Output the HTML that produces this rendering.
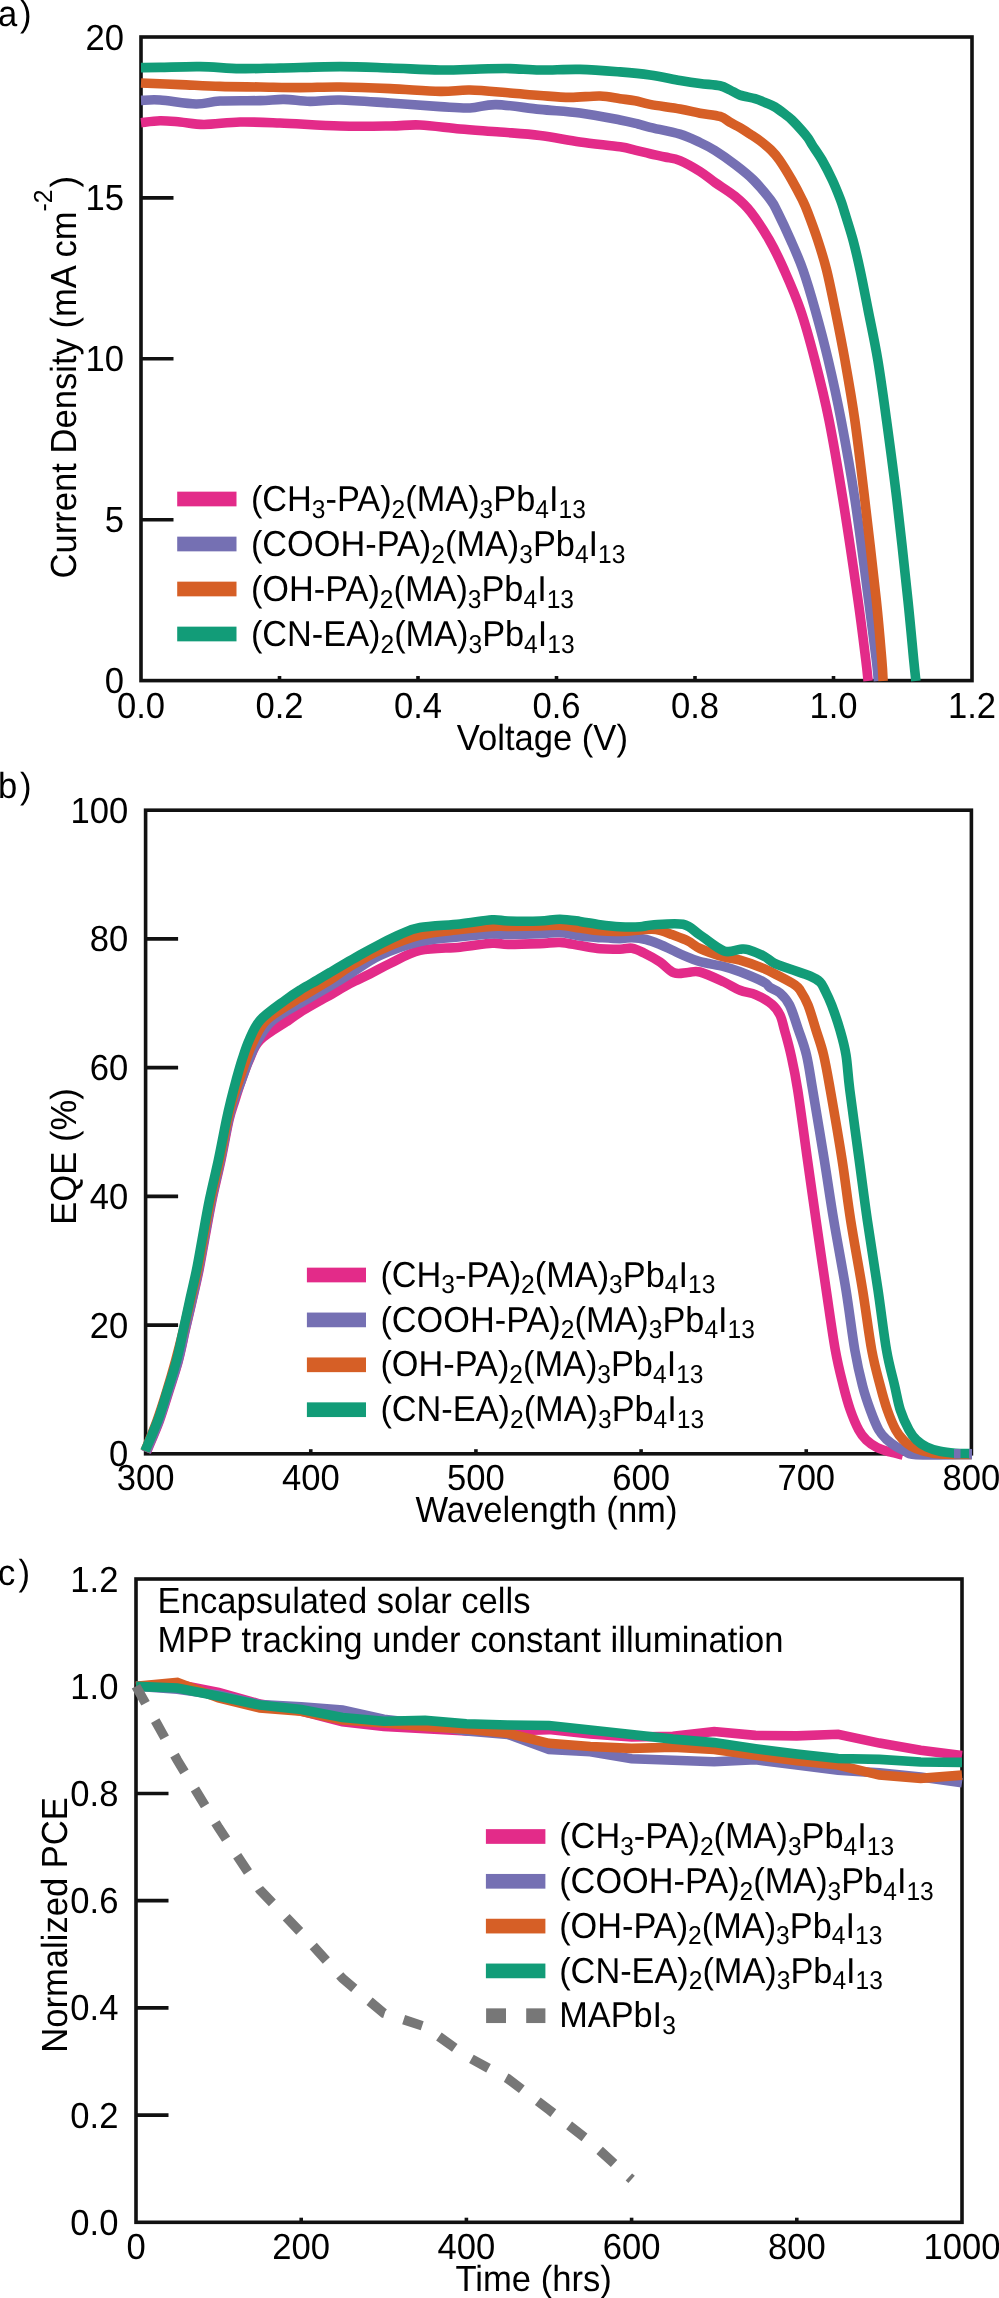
<!DOCTYPE html><html><head><meta charset="utf-8"><title>Figure</title><style>html,body{margin:0;padding:0;background:#fff;overflow:hidden}svg{display:block;will-change:transform}svg{font-size:34.6px}text{font-family:"Liberation Sans",sans-serif;fill:#000;text-rendering:geometricPrecision}</style></head><body>
<svg width="999" height="2298" viewBox="0 0 999 2298">
<rect width="999" height="2298" fill="#fff"/>
<line x1="141" y1="519.7" x2="173.5" y2="519.7" stroke="#111" stroke-width="3.6"/>
<line x1="141" y1="358.8" x2="173.5" y2="358.8" stroke="#111" stroke-width="3.6"/>
<line x1="141" y1="197.9" x2="173.5" y2="197.9" stroke="#111" stroke-width="3.6"/>
<line x1="279.5" y1="680.6" x2="279.5" y2="676" stroke="#111" stroke-width="3.6"/>
<line x1="418" y1="680.6" x2="418" y2="676" stroke="#111" stroke-width="3.6"/>
<line x1="556.5" y1="680.6" x2="556.5" y2="676" stroke="#111" stroke-width="3.6"/>
<line x1="695" y1="680.6" x2="695" y2="676" stroke="#111" stroke-width="3.6"/>
<line x1="833.5" y1="680.6" x2="833.5" y2="676" stroke="#111" stroke-width="3.6"/>
<rect x="141" y="37" width="831" height="643.6" fill="none" stroke="#111" stroke-width="3.6"/>
<path d="M141,122.7 C144.17,122.37 153.5,120.82 160,120.7 C166.5,120.58 172.67,121.37 180,122 C187.33,122.63 194,124.5 204,124.5 C214,124.5 227.33,122.25 240,122 C252.67,121.75 263.33,122.33 280,123 C296.67,123.67 321.67,125.5 340,126 C358.33,126.5 376.67,126.17 390,126 C403.33,125.83 408.33,124.5 420,125 C431.67,125.5 446.67,127.83 460,129 C473.33,130.17 486.67,130.93 500,132 C513.33,133.07 526.67,133.73 540,135.4 C553.33,137.07 566.67,140.1 580,142 C593.33,143.9 610.83,145.45 620,146.8 C629.17,148.15 630,148.95 635,150.1 C640,151.25 645,152.55 650,153.7 C655,154.85 660,155.85 665,157 C670,158.15 674.17,158.18 680,160.6 C685.83,163.02 694.17,167.85 700,171.5 C705.83,175.15 709.17,178.37 715,182.5 C720.83,186.63 729.03,191.38 735,196.3 C740.97,201.22 745.08,204.72 750.8,212 C756.52,219.28 763.73,230.33 769.3,240 C774.87,249.67 779,258.33 784.2,270 C789.4,281.67 795.38,295 800.5,310 C805.62,325 810.15,341.67 814.9,360 C819.65,378.33 824.32,396.67 829,420 C833.68,443.33 838.17,470 843,500 C847.83,530 854.2,573.33 858,600 C861.8,626.67 864.12,646.5 865.8,660 C867.48,673.5 867.72,677.5 868.1,681" fill="none" stroke="#e32b89" stroke-width="9.6" stroke-linejoin="round" stroke-linecap="butt"/>
<path d="M141,100.4 C144.17,100.33 150.83,99.4 160,100 C169.17,100.6 186,103.83 196,104 C206,104.17 209.33,101.57 220,101 C230.67,100.43 249.33,100.87 260,100.6 C270.67,100.33 275.67,99.27 284,99.4 C292.33,99.53 300.67,101.3 310,101.4 C319.33,101.5 326.67,99.73 340,100 C353.33,100.27 373.33,101.9 390,103 C406.67,104.1 426.67,105.77 440,106.6 C453.33,107.43 460.67,108.33 470,108 C479.33,107.67 484.33,104.37 496,104.6 C507.67,104.83 526,108 540,109.4 C554,110.8 566.67,111.23 580,113 C593.33,114.77 610.33,118.17 620,120 C629.67,121.83 633,122.78 638,124 C643,125.22 643,125.6 650,127.3 C657,129 671.67,131.67 680,134.2 C688.33,136.73 694.17,139.78 700,142.5 C705.83,145.22 709.17,146.83 715,150.5 C720.83,154.17 728.58,159.58 735,164.5 C741.42,169.42 747.57,174.08 753.5,180 C759.43,185.92 766.6,194.67 770.6,200 C774.6,205.33 774.17,205.33 777.5,212 C780.83,218.67 786.35,230.33 790.6,240 C794.85,249.67 798.9,258.33 803,270 C807.1,281.67 811,295 815.2,310 C819.4,325 823.88,341.67 828.2,360 C832.52,378.33 836.63,396.67 841.1,420 C845.57,443.33 850.42,470 855,500 C859.58,530 865.05,573.33 868.6,600 C872.15,626.67 874.67,646.5 876.3,660 C877.93,673.5 878.05,677.5 878.4,681" fill="none" stroke="#7570b3" stroke-width="9.6" stroke-linejoin="round" stroke-linecap="butt"/>
<path d="M141,83 C147.5,83.27 166.83,84.03 180,84.6 C193.17,85.17 206.67,86 220,86.4 C233.33,86.8 246.67,86.8 260,87 C273.33,87.2 286.67,87.6 300,87.6 C313.33,87.6 325,86.83 340,87 C355,87.17 373.33,87.87 390,88.6 C406.67,89.33 426.67,91.17 440,91.4 C453.33,91.63 458.33,89.73 470,90 C481.67,90.27 498.33,92.08 510,93 C521.67,93.92 530,94.77 540,95.5 C550,96.23 560,97.32 570,97.4 C580,97.48 591.67,95.78 600,96 C608.33,96.22 614.17,97.9 620,98.7 C625.83,99.5 630,99.85 635,100.8 C640,101.75 642.5,103.03 650,104.4 C657.5,105.77 671.67,107.53 680,109 C688.33,110.47 693.33,111.97 700,113.2 C706.67,114.43 715,114.88 720,116.4 C725,117.92 726.67,120.43 730,122.3 C733.33,124.17 736.67,125.65 740,127.6 C743.33,129.55 746.67,131.8 750,134 C753.33,136.2 756.5,138.13 760,140.8 C763.5,143.47 767.77,146.8 771,150 C774.23,153.2 775.93,155 779.4,160 C782.87,165 787.97,173.33 791.8,180 C795.63,186.67 799.77,194.67 802.4,200 C805.03,205.33 805.05,205.33 807.6,212 C810.15,218.67 814.53,230.33 817.7,240 C820.87,249.67 823.68,258.33 826.6,270 C829.52,281.67 832.15,295 835.2,310 C838.25,325 841.63,341.67 844.9,360 C848.17,378.33 851.48,396.67 854.8,420 C858.12,443.33 861.22,470 864.8,500 C868.38,530 873.47,573.33 876.3,600 C879.13,626.67 880.67,646.5 881.8,660 C882.93,673.5 882.88,677.5 883.1,681" fill="none" stroke="#d65f26" stroke-width="9.6" stroke-linejoin="round" stroke-linecap="butt"/>
<path d="M141,67.6 C144.17,67.57 150.17,67.57 160,67.4 C169.83,67.23 186.67,66.4 200,66.6 C213.33,66.8 226.67,68.37 240,68.6 C253.33,68.83 263.33,68.33 280,68 C296.67,67.67 321.67,66.6 340,66.6 C358.33,66.6 373.33,67.43 390,68 C406.67,68.57 425,69.83 440,70 C455,70.17 468.33,69.23 480,69 C491.67,68.77 500,68.43 510,68.6 C520,68.77 528.33,69.87 540,70 C551.67,70.13 566.67,69.08 580,69.4 C593.33,69.72 608.33,70.97 620,71.9 C631.67,72.83 640,73.58 650,75 C660,76.42 671.67,78.98 680,80.4 C688.33,81.82 693.33,82.6 700,83.5 C706.67,84.4 715,84.72 720,85.8 C725,86.88 726.67,88.45 730,90 C733.33,91.55 735.83,93.67 740,95.1 C744.17,96.53 750.83,97.37 755,98.6 C759.17,99.83 761.67,101.1 765,102.5 C768.33,103.9 771.5,104.92 775,107 C778.5,109.08 783.17,112.83 786,115 C788.83,117.17 789.43,117.5 792,120 C794.57,122.5 798.73,127 801.4,130 C804.07,133 806.2,135.5 808,138 C809.8,140.5 809.87,141.33 812.2,145 C814.53,148.67 818.65,154.17 822,160 C825.35,165.83 829.2,173.33 832.3,180 C835.4,186.67 838.57,194.67 840.6,200 C842.63,205.33 842.43,205.33 844.5,212 C846.57,218.67 850.4,230.33 853,240 C855.6,249.67 857.58,258.33 860.1,270 C862.62,281.67 865.15,295 868.1,310 C871.05,325 874.73,341.67 877.8,360 C880.87,378.33 883.32,396.67 886.5,420 C889.68,443.33 893.33,470 896.9,500 C900.47,530 905.1,573.33 907.9,600 C910.7,626.67 912.37,646.5 913.7,660 C915.03,673.5 915.53,677.5 915.9,681" fill="none" stroke="#129c78" stroke-width="9.6" stroke-linejoin="round" stroke-linecap="butt"/>
<text transform="translate(123.9,693.1) scale(1,1.05)" text-anchor="end">0</text>
<text transform="translate(123.9,532.2) scale(1,1.05)" text-anchor="end">5</text>
<text transform="translate(123.9,371.3) scale(1,1.05)" text-anchor="end">10</text>
<text transform="translate(123.9,210.4) scale(1,1.05)" text-anchor="end">15</text>
<text transform="translate(123.9,49.5) scale(1,1.05)" text-anchor="end">20</text>
<text transform="translate(141,717.7) scale(1,1.05)" text-anchor="middle">0.0</text>
<text transform="translate(279.5,717.7) scale(1,1.05)" text-anchor="middle">0.2</text>
<text transform="translate(418,717.7) scale(1,1.05)" text-anchor="middle">0.4</text>
<text transform="translate(556.5,717.7) scale(1,1.05)" text-anchor="middle">0.6</text>
<text transform="translate(695,717.7) scale(1,1.05)" text-anchor="middle">0.8</text>
<text transform="translate(833.5,717.7) scale(1,1.05)" text-anchor="middle">1.0</text>
<text transform="translate(972,717.7) scale(1,1.05)" text-anchor="middle">1.2</text>
<text transform="translate(456.85,749.7) scale(1,1.05)">Voltage (V)</text>
<text transform="translate(75.9,578.4) rotate(-90) scale(1,1.05)">Current Density (mA cm<tspan font-size="24.8" dy="-22.4">-2</tspan><tspan dy="22.4" dx="1.8">)</tspan></text>
<text transform="translate(-2.1,25.6) scale(1,1.05)">a</text>
<text transform="translate(20,25.6) scale(1,1.05)">)</text>
<rect x="177.2" y="491.65" width="59.3" height="14.7" fill="#e32b89"/>
<text transform="translate(250.9,511) scale(1,1.05)" font-size="34.3"><tspan>(CH</tspan><tspan font-size="24.6" dy="6.35">3</tspan><tspan dy="-6.35">-PA)</tspan><tspan font-size="24.6" dy="6.35">2</tspan><tspan dy="-6.35">(MA)</tspan><tspan font-size="24.6" dy="6.35">3</tspan><tspan dy="-6.35">Pb</tspan><tspan font-size="24.6" dy="6.35">4</tspan><tspan dy="-6.35">I</tspan><tspan font-size="24.6" dy="6.35">13</tspan></text>
<rect x="177.2" y="536.65" width="59.3" height="14.7" fill="#7570b3"/>
<text transform="translate(250.9,556) scale(1,1.05)" font-size="34.3"><tspan>(COOH-PA)</tspan><tspan font-size="24.6" dy="6.35">2</tspan><tspan dy="-6.35">(MA)</tspan><tspan font-size="24.6" dy="6.35">3</tspan><tspan dy="-6.35">Pb</tspan><tspan font-size="24.6" dy="6.35">4</tspan><tspan dy="-6.35">I</tspan><tspan font-size="24.6" dy="6.35">13</tspan></text>
<rect x="177.2" y="581.65" width="59.3" height="14.7" fill="#d65f26"/>
<text transform="translate(250.9,601) scale(1,1.05)" font-size="34.3"><tspan>(OH-PA)</tspan><tspan font-size="24.6" dy="6.35">2</tspan><tspan dy="-6.35">(MA)</tspan><tspan font-size="24.6" dy="6.35">3</tspan><tspan dy="-6.35">Pb</tspan><tspan font-size="24.6" dy="6.35">4</tspan><tspan dy="-6.35">I</tspan><tspan font-size="24.6" dy="6.35">13</tspan></text>
<rect x="177.2" y="626.65" width="59.3" height="14.7" fill="#129c78"/>
<text transform="translate(250.9,646) scale(1,1.05)" font-size="34.3"><tspan>(CN-EA)</tspan><tspan font-size="24.6" dy="6.35">2</tspan><tspan dy="-6.35">(MA)</tspan><tspan font-size="24.6" dy="6.35">3</tspan><tspan dy="-6.35">Pb</tspan><tspan font-size="24.6" dy="6.35">4</tspan><tspan dy="-6.35">I</tspan><tspan font-size="24.6" dy="6.35">13</tspan></text>
<line x1="145.6" y1="1325.08" x2="178.1" y2="1325.08" stroke="#111" stroke-width="3.6"/>
<line x1="145.6" y1="1196.36" x2="178.1" y2="1196.36" stroke="#111" stroke-width="3.6"/>
<line x1="145.6" y1="1067.64" x2="178.1" y2="1067.64" stroke="#111" stroke-width="3.6"/>
<line x1="145.6" y1="938.92" x2="178.1" y2="938.92" stroke="#111" stroke-width="3.6"/>
<line x1="310.76" y1="1453.8" x2="310.76" y2="1449.2" stroke="#111" stroke-width="3.6"/>
<line x1="475.92" y1="1453.8" x2="475.92" y2="1449.2" stroke="#111" stroke-width="3.6"/>
<line x1="641.08" y1="1453.8" x2="641.08" y2="1449.2" stroke="#111" stroke-width="3.6"/>
<line x1="806.24" y1="1453.8" x2="806.24" y2="1449.2" stroke="#111" stroke-width="3.6"/>
<rect x="145.6" y="810.2" width="825.8" height="643.6" fill="none" stroke="#111" stroke-width="3.6"/>
<path d="M146.5,1452 C148.63,1446.83 155.55,1431.17 159.3,1421 C163.05,1410.83 165.83,1401 169,1391 C172.17,1381 175.58,1371.17 178.3,1361 C181.02,1350.83 182.97,1340.17 185.3,1330 C187.63,1319.83 190.02,1310 192.3,1300 C194.58,1290 196.97,1280 199,1270 C201.03,1260 202.33,1251.67 204.5,1240 C206.67,1228.33 209.25,1213.33 212,1200 C214.75,1186.67 218.17,1173.33 221,1160 C223.83,1146.67 226.67,1130 229,1120 C231.33,1110 232.9,1106.67 235,1100 C237.1,1093.33 239.23,1086.67 241.6,1080 C243.97,1073.33 246.13,1066.67 249.2,1060 C252.27,1053.33 253.37,1046.67 260,1040 C266.63,1033.33 282,1024.83 289,1020 C296,1015.17 296.67,1014.33 302,1011 C307.33,1007.67 316,1002.83 321,1000 C326,997.17 327.17,996.75 332,994 C336.83,991.25 343.67,986.85 350,983.5 C356.33,980.15 363.33,977.23 370,973.9 C376.67,970.57 381.67,967.42 390,963.5 C398.33,959.58 408.33,953.12 420,950.4 C431.67,947.68 448,948.4 460,947.2 C472,946 484,943.67 492,943.2 C500,942.73 500,944.33 508,944.4 C516,944.47 531.33,943.93 540,943.6 C548.67,943.27 553.33,942.07 560,942.4 C566.67,942.73 573.33,944.53 580,945.6 C586.67,946.67 593.33,948.2 600,948.8 C606.67,949.4 614.67,949.3 620,949.2 C625.33,949.1 628,947.57 632,948.2 C636,948.83 639.33,950.7 644,953 C648.67,955.3 655,958.7 660,962 C665,965.3 669.33,971.05 674,972.8 C678.67,974.55 683.67,972.63 688,972.5 C692.33,972.37 694,970.42 700,972 C706,973.58 717.33,978.95 724,982 C730.67,985.05 734.67,988.17 740,990.3 C745.33,992.43 750.67,992.47 756,994.8 C761.33,997.13 768,1000.93 772,1004.3 C776,1007.67 777.92,1010.72 780,1015 C782.08,1019.28 782.67,1023.33 784.5,1030 C786.33,1036.67 788.8,1045 791,1055 C793.2,1065 794.95,1072.5 797.7,1090 C800.45,1107.5 804.45,1138.33 807.5,1160 C810.55,1181.67 812.88,1198.33 816,1220 C819.12,1241.67 822.98,1268.33 826.2,1290 C829.42,1311.67 832.43,1334 835.3,1350 C838.17,1366 840.9,1376 843.4,1386 C845.9,1396 847.73,1402.67 850.3,1410 C852.87,1417.33 856.13,1425 858.8,1430 C861.47,1435 863.27,1437.08 866.3,1440 C869.33,1442.92 873.05,1445.5 877,1447.5 C880.95,1449.5 885.68,1450.75 890,1452 C894.32,1453.25 900.75,1454.5 902.9,1455" fill="none" stroke="#e32b89" stroke-width="9.6" stroke-linejoin="round" stroke-linecap="butt"/>
<path d="M146,1452 C148.13,1446.83 155.05,1431.17 158.8,1421 C162.55,1410.83 165.3,1401 168.5,1391 C171.7,1381 175.25,1371.17 178,1361 C180.75,1350.83 182.67,1340.17 185,1330 C187.33,1319.83 189.75,1310 192,1300 C194.25,1290 196.5,1280 198.5,1270 C200.5,1260 201.83,1251.67 204,1240 C206.17,1228.33 208.75,1213.33 211.5,1200 C214.25,1186.67 217.67,1173.33 220.5,1160 C223.33,1146.67 226.25,1130 228.5,1120 C230.75,1110 231.83,1106.67 234,1100 C236.17,1093.33 239.03,1086.67 241.5,1080 C243.97,1073.33 246.05,1066.67 248.8,1060 C251.55,1053.33 253.97,1046.67 258,1040 C262.03,1033.33 265,1026.67 273,1020 C281,1013.33 295.83,1006.08 306,1000 C316.17,993.92 326.67,987.83 334,983.5 C341.33,979.17 342.33,978.67 350,974 C357.67,969.33 368.33,960.9 380,955.5 C391.67,950.1 406.67,944.72 420,941.6 C433.33,938.48 448,938.07 460,936.8 C472,935.53 484,934.4 492,934 C500,933.6 500,934.43 508,934.4 C516,934.37 531.33,934.13 540,933.8 C548.67,933.47 553.33,932.03 560,932.4 C566.67,932.77 573.33,935.13 580,936 C586.67,936.87 593.33,937.17 600,937.6 C606.67,938.03 614.67,938.6 620,938.6 C625.33,938.6 627.67,937.45 632,937.6 C636.33,937.75 641.33,938.35 646,939.5 C650.67,940.65 655.67,942.75 660,944.5 C664.33,946.25 668,948.15 672,950 C676,951.85 679.33,953.65 684,955.6 C688.67,957.55 693.33,959.87 700,961.7 C706.67,963.53 717.33,964.92 724,966.6 C730.67,968.28 733.33,969.2 740,971.8 C746.67,974.4 759,979.58 764,982.2 C769,984.82 767.33,985.7 770,987.5 C772.67,989.3 776.75,990.08 780,993 C783.25,995.92 786.42,998.83 789.5,1005 C792.58,1011.17 795.67,1021.67 798.5,1030 C801.33,1038.33 804.13,1045 806.5,1055 C808.87,1065 809.73,1072.5 812.7,1090 C815.67,1107.5 820.8,1138.33 824.3,1160 C827.8,1181.67 830.08,1198.33 833.7,1220 C837.32,1241.67 842.48,1268.33 846,1290 C849.52,1311.67 852.03,1334 854.8,1350 C857.57,1366 860.02,1376 862.6,1386 C865.18,1396 867.6,1402.67 870.3,1410 C873,1417.33 875.97,1425 878.8,1430 C881.63,1435 884.43,1437.25 887.3,1440 C890.17,1442.75 893.05,1444.67 896,1446.5 C898.95,1448.33 901.65,1449.65 905,1451 C908.35,1452.35 904.93,1454 916.1,1454.6 C927.27,1455.2 962.68,1454.6 972,1454.6" fill="none" stroke="#7570b3" stroke-width="9.6" stroke-linejoin="round" stroke-linecap="butt"/>
<path d="M145,1451 C147,1446 153.37,1431 157,1421 C160.63,1411 163.72,1401 166.8,1391 C169.88,1381 172.72,1371.17 175.5,1361 C178.28,1350.83 181,1340.17 183.5,1330 C186,1319.83 188.17,1310 190.5,1300 C192.83,1290 195.42,1280 197.5,1270 C199.58,1260 200.83,1251.67 203,1240 C205.17,1228.33 207.75,1213.33 210.5,1200 C213.25,1186.67 216.67,1173.33 219.5,1160 C222.33,1146.67 225.33,1130 227.5,1120 C229.67,1110 230.55,1106.67 232.5,1100 C234.45,1093.33 236.95,1086.67 239.2,1080 C241.45,1073.33 243.53,1066.67 246,1060 C248.47,1053.33 250.57,1046.67 254,1040 C257.43,1033.33 259.6,1026.67 266.6,1020 C273.6,1013.33 290.1,1003.92 296,1000 C301.9,996.08 296.33,999.83 302,996.5 C307.67,993.17 322,985 330,980 C338,975 341.67,971.5 350,966.5 C358.33,961.5 368.33,955.22 380,950 C391.67,944.78 406.67,938.6 420,935.2 C433.33,931.8 448,931.07 460,929.6 C472,928.13 484,926.93 492,926.4 C500,925.87 500,926.47 508,926.4 C516,926.33 531.33,926.2 540,926 C548.67,925.8 553.33,924.87 560,925.2 C566.67,925.53 573.33,927.07 580,928 C586.67,928.93 593.33,930.23 600,930.8 C606.67,931.37 613.33,931.53 620,931.4 C626.67,931.27 634.67,930.37 640,930 C645.33,929.63 648.67,929.13 652,929.2 C655.33,929.27 656.67,929.5 660,930.4 C663.33,931.3 667.33,932.83 672,934.6 C676.67,936.37 683.33,938.68 688,941 C692.67,943.32 694,945.83 700,948.5 C706,951.17 717.33,955.05 724,957 C730.67,958.95 733.33,958.27 740,960.2 C746.67,962.13 757.33,965.87 764,968.6 C770.67,971.33 774.83,973.87 780,976.6 C785.17,979.33 791.67,982.77 795,985 C798.33,987.23 797.83,986.67 800,990 C802.17,993.33 805.33,998.33 808,1005 C810.67,1011.67 813.4,1021.67 816,1030 C818.6,1038.33 821.22,1045 823.6,1055 C825.98,1065 827.22,1072.5 830.3,1090 C833.38,1107.5 838.72,1138.33 842.1,1160 C845.48,1181.67 847.18,1198.33 850.6,1220 C854.02,1241.67 859.08,1268.33 862.6,1290 C866.12,1311.67 868.75,1334 871.7,1350 C874.65,1366 877.7,1376 880.3,1386 C882.9,1396 884.72,1402.67 887.3,1410 C889.88,1417.33 893.13,1425 895.8,1430 C898.47,1435 900.77,1437.33 903.3,1440 C905.83,1442.67 907.87,1444.23 911,1446 C914.13,1447.77 917.27,1449.27 922.1,1450.6 C926.93,1451.93 931.85,1453.37 940,1454 C948.15,1454.63 965.83,1454.33 971,1454.4" fill="none" stroke="#d65f26" stroke-width="9.6" stroke-linejoin="round" stroke-linecap="butt"/>
<path d="M145,1451 C147.17,1445.83 154.23,1430.17 158,1420 C161.77,1409.83 164.48,1400 167.6,1390 C170.72,1380 174.08,1370 176.7,1360 C179.32,1350 181.12,1340 183.3,1330 C185.48,1320 187.6,1310 189.8,1300 C192,1290 194.47,1280 196.5,1270 C198.53,1260 199.85,1251.67 202,1240 C204.15,1228.33 206.67,1213.33 209.4,1200 C212.13,1186.67 215.57,1173.33 218.4,1160 C221.23,1146.67 224.3,1130 226.4,1120 C228.5,1110 229.37,1106.67 231,1100 C232.63,1093.33 234.37,1086.67 236.2,1080 C238.03,1073.33 239.83,1066.67 242,1060 C244.17,1053.33 246.13,1046.67 249.2,1040 C252.27,1033.33 254.35,1026.67 260.4,1020 C266.45,1013.33 278.73,1005.08 285.5,1000 C292.27,994.92 295.67,992.83 301,989.5 C306.33,986.17 312.67,982.83 317.5,980 C322.33,977.17 322.92,976.67 330,972.5 C337.08,968.33 351.67,959.72 360,955 C368.33,950.28 373.33,947.62 380,944.2 C386.67,940.78 393.33,937.27 400,934.5 C406.67,931.73 410,929.35 420,927.6 C430,925.85 448,925.3 460,924 C472,922.7 484,920.3 492,919.8 C500,919.3 500,920.8 508,921 C516,921.2 531.33,921.3 540,921 C548.67,920.7 553.33,919.13 560,919.2 C566.67,919.27 573.33,920.47 580,921.4 C586.67,922.33 593.33,923.9 600,924.8 C606.67,925.7 613.33,926.47 620,926.8 C626.67,927.13 634.67,927.1 640,926.8 C645.33,926.5 644.83,925.42 652,925 C659.17,924.58 675,922.63 683,924.3 C691,925.97 693.17,930.55 700,935 C706.83,939.45 717.33,948.63 724,951 C730.67,953.37 736,949.43 740,949.2 C744,948.97 744,948.43 748,949.6 C752,950.77 759.67,953.97 764,956.2 C768.33,958.43 769.67,960.87 774,963 C778.33,965.13 784,966.83 790,969 C796,971.17 805,973.83 810,976 C815,978.17 817.53,979.67 820,982 C822.47,984.33 822.87,986.17 824.8,990 C826.73,993.83 829.07,998.33 831.6,1005 C834.13,1011.67 837.6,1021.67 840,1030 C842.4,1038.33 844.37,1045 846,1055 C847.63,1065 847.6,1072.5 849.8,1090 C852,1107.5 856.28,1138.33 859.2,1160 C862.12,1181.67 864.17,1198.33 867.3,1220 C870.43,1241.67 874.8,1268.33 878,1290 C881.2,1311.67 883.72,1334 886.5,1350 C889.28,1366 892.4,1376 894.7,1386 C897,1396 897.92,1402.67 900.3,1410 C902.68,1417.33 906.3,1425 909,1430 C911.7,1435 913.53,1437.17 916.5,1440 C919.47,1442.83 922.88,1445.12 926.8,1447 C930.72,1448.88 935.3,1450.27 940,1451.3 C944.7,1452.33 949.97,1452.82 955,1453.2 C960.03,1453.58 967.67,1453.53 970.2,1453.6" fill="none" stroke="#129c78" stroke-width="9.6" stroke-linejoin="round" stroke-linecap="butt"/>
<path d="M954,1453.7 H960.5 M969,1453.7 H972" stroke="#7570b3" stroke-width="9.6"/>
<text transform="translate(128.3,1466.3) scale(1,1.05)" text-anchor="end">0</text>
<text transform="translate(128.3,1337.58) scale(1,1.05)" text-anchor="end">20</text>
<text transform="translate(128.3,1208.86) scale(1,1.05)" text-anchor="end">40</text>
<text transform="translate(128.3,1080.14) scale(1,1.05)" text-anchor="end">60</text>
<text transform="translate(128.3,951.42) scale(1,1.05)" text-anchor="end">80</text>
<text transform="translate(128.3,822.7) scale(1,1.05)" text-anchor="end">100</text>
<text transform="translate(145.6,1490.2) scale(1,1.05)" text-anchor="middle">300</text>
<text transform="translate(310.76,1490.2) scale(1,1.05)" text-anchor="middle">400</text>
<text transform="translate(475.92,1490.2) scale(1,1.05)" text-anchor="middle">500</text>
<text transform="translate(641.08,1490.2) scale(1,1.05)" text-anchor="middle">600</text>
<text transform="translate(806.24,1490.2) scale(1,1.05)" text-anchor="middle">700</text>
<text transform="translate(971.4,1490.2) scale(1,1.05)" text-anchor="middle">800</text>
<text transform="translate(415.45,1521.6) scale(1,1.05)">Wavelength (nm)</text>
<text transform="translate(76,1224.7) rotate(-90) scale(1,1.05)">EQE (%)</text>
<text transform="translate(-2.1,797.9) scale(1,1.05)">b</text>
<text transform="translate(20,797.9) scale(1,1.05)">)</text>
<rect x="306.9" y="1267.65" width="59.1" height="14.7" fill="#e32b89"/>
<text transform="translate(380.4,1286.6) scale(1,1.05)" font-size="34.3"><tspan>(CH</tspan><tspan font-size="24.6" dy="6.35">3</tspan><tspan dy="-6.35">-PA)</tspan><tspan font-size="24.6" dy="6.35">2</tspan><tspan dy="-6.35">(MA)</tspan><tspan font-size="24.6" dy="6.35">3</tspan><tspan dy="-6.35">Pb</tspan><tspan font-size="24.6" dy="6.35">4</tspan><tspan dy="-6.35">I</tspan><tspan font-size="24.6" dy="6.35">13</tspan></text>
<rect x="306.9" y="1312.55" width="59.1" height="14.7" fill="#7570b3"/>
<text transform="translate(380.4,1331.5) scale(1,1.05)" font-size="34.3"><tspan>(COOH-PA)</tspan><tspan font-size="24.6" dy="6.35">2</tspan><tspan dy="-6.35">(MA)</tspan><tspan font-size="24.6" dy="6.35">3</tspan><tspan dy="-6.35">Pb</tspan><tspan font-size="24.6" dy="6.35">4</tspan><tspan dy="-6.35">I</tspan><tspan font-size="24.6" dy="6.35">13</tspan></text>
<rect x="306.9" y="1357.45" width="59.1" height="14.7" fill="#d65f26"/>
<text transform="translate(380.4,1376.4) scale(1,1.05)" font-size="34.3"><tspan>(OH-PA)</tspan><tspan font-size="24.6" dy="6.35">2</tspan><tspan dy="-6.35">(MA)</tspan><tspan font-size="24.6" dy="6.35">3</tspan><tspan dy="-6.35">Pb</tspan><tspan font-size="24.6" dy="6.35">4</tspan><tspan dy="-6.35">I</tspan><tspan font-size="24.6" dy="6.35">13</tspan></text>
<rect x="306.9" y="1402.35" width="59.1" height="14.7" fill="#129c78"/>
<text transform="translate(380.4,1421.3) scale(1,1.05)" font-size="34.3"><tspan>(CN-EA)</tspan><tspan font-size="24.6" dy="6.35">2</tspan><tspan dy="-6.35">(MA)</tspan><tspan font-size="24.6" dy="6.35">3</tspan><tspan dy="-6.35">Pb</tspan><tspan font-size="24.6" dy="6.35">4</tspan><tspan dy="-6.35">I</tspan><tspan font-size="24.6" dy="6.35">13</tspan></text>
<line x1="136" y1="2115.08" x2="168.5" y2="2115.08" stroke="#111" stroke-width="3.6"/>
<line x1="136" y1="2007.87" x2="168.5" y2="2007.87" stroke="#111" stroke-width="3.6"/>
<line x1="136" y1="1900.65" x2="168.5" y2="1900.65" stroke="#111" stroke-width="3.6"/>
<line x1="136" y1="1793.43" x2="168.5" y2="1793.43" stroke="#111" stroke-width="3.6"/>
<line x1="136" y1="1686.22" x2="168.5" y2="1686.22" stroke="#111" stroke-width="3.6"/>
<line x1="301.2" y1="2222.3" x2="301.2" y2="2217.7" stroke="#111" stroke-width="3.6"/>
<line x1="466.4" y1="2222.3" x2="466.4" y2="2217.7" stroke="#111" stroke-width="3.6"/>
<line x1="631.6" y1="2222.3" x2="631.6" y2="2217.7" stroke="#111" stroke-width="3.6"/>
<line x1="796.8" y1="2222.3" x2="796.8" y2="2217.7" stroke="#111" stroke-width="3.6"/>
<rect x="136" y="1579" width="826" height="643.3" fill="none" stroke="#111" stroke-width="3.6"/>
<path d="M136,1686.3 L177.3,1684.3 L218.6,1692.4 L259.9,1704 L301.2,1711 L342.5,1721.8 L383.8,1726.4 L425.1,1728.7 L466.4,1731 L507.7,1731 L549,1729.6 L590.3,1734 L631.6,1737 L672.9,1736.2 L714.2,1731.5 L755.5,1735.4 L796.8,1735.9 L838.1,1734.3 L879.4,1743.1 L920.7,1750.2 L962,1755.5" fill="none" stroke="#e32b89" stroke-width="9.6" stroke-linejoin="miter" stroke-linecap="butt"/>
<path d="M136,1686.3 L177.3,1689.3 L218.6,1695 L259.9,1704.5 L301.2,1706.7 L342.5,1710 L383.8,1719.2 L425.1,1724 L466.4,1731 L507.7,1734.4 L549,1749.5 L590.3,1751.8 L631.6,1758.7 L672.9,1760.3 L714.2,1761.7 L755.5,1759.8 L796.8,1765.1 L838.1,1770.2 L879.4,1772.9 L920.7,1777 L962,1782.8" fill="none" stroke="#7570b3" stroke-width="9.6" stroke-linejoin="miter" stroke-linecap="butt"/>
<path d="M136,1686.3 L177.3,1682.3 L218.6,1698 L259.9,1708 L301.2,1711.3 L342.5,1720.1 L383.8,1723 L425.1,1726.4 L466.4,1729.1 L507.7,1733.3 L549,1743.3 L590.3,1746.5 L631.6,1748.4 L672.9,1747.2 L714.2,1749.5 L755.5,1755.2 L796.8,1760.7 L838.1,1765.1 L879.4,1775.1 L920.7,1778.4 L962,1775.1" fill="none" stroke="#d65f26" stroke-width="9.6" stroke-linejoin="miter" stroke-linecap="butt"/>
<path d="M136,1686.4 L177.3,1688 L218.6,1696.3 L259.9,1705.1 L301.2,1709.5 L342.5,1717.5 L383.8,1721.3 L425.1,1720.4 L466.4,1723.7 L507.7,1725 L549,1725.5 L590.3,1729.9 L631.6,1734.5 L672.9,1739.1 L714.2,1742.6 L755.5,1748.8 L796.8,1754.1 L838.1,1758.5 L879.4,1759.4 L920.7,1762 L962,1762.4" fill="none" stroke="#129c78" stroke-width="9.6" stroke-linejoin="miter" stroke-linecap="butt"/>
<path d="M136,1686.22 L177.3,1760.2 L218.6,1827.74 L259.9,1889.93 L301.2,1932.82 L342.5,1978.38 L383.8,2013.23 L425.1,2026.63 L466.4,2056.11 L507.7,2078.63 L549,2109.72 L590.3,2141.89 L631.6,2179.41" fill="none" stroke="#777777" stroke-width="9.6" stroke-dasharray="19.5 20" stroke-linejoin="miter" stroke-linecap="butt"/>
<text transform="translate(118.4,2234.8) scale(1,1.05)" text-anchor="end">0.0</text>
<text transform="translate(118.4,2127.58) scale(1,1.05)" text-anchor="end">0.2</text>
<text transform="translate(118.4,2020.37) scale(1,1.05)" text-anchor="end">0.4</text>
<text transform="translate(118.4,1913.15) scale(1,1.05)" text-anchor="end">0.6</text>
<text transform="translate(118.4,1805.93) scale(1,1.05)" text-anchor="end">0.8</text>
<text transform="translate(118.4,1698.72) scale(1,1.05)" text-anchor="end">1.0</text>
<text transform="translate(118.4,1591.5) scale(1,1.05)" text-anchor="end">1.2</text>
<text transform="translate(136,2258.8) scale(1,1.05)" text-anchor="middle">0</text>
<text transform="translate(301.2,2258.8) scale(1,1.05)" text-anchor="middle">200</text>
<text transform="translate(466.4,2258.8) scale(1,1.05)" text-anchor="middle">400</text>
<text transform="translate(631.6,2258.8) scale(1,1.05)" text-anchor="middle">600</text>
<text transform="translate(796.8,2258.8) scale(1,1.05)" text-anchor="middle">800</text>
<text transform="translate(962,2258.8) scale(1,1.05)" text-anchor="middle">1000</text>
<text transform="translate(455.5,2290.5) scale(1,1.05)">Time (hrs)</text>
<text transform="translate(66.5,2052.7) rotate(-90) scale(1,1.05)">Normalized PCE</text>
<text transform="translate(-2.1,1585.3) scale(1,1.05)">c</text>
<text transform="translate(18.4,1585.3) scale(1,1.05)">)</text>
<text transform="translate(157.6,1612.6) scale(1,1.05)">Encapsulated solar cells</text>
<text transform="translate(157.6,1651.7) scale(1,1.05)">MPP tracking under constant illumination</text>
<rect x="485.9" y="1829.15" width="59.5" height="14.7" fill="#e32b89"/>
<text transform="translate(559.2,1848.2) scale(1,1.05)" font-size="34.3"><tspan>(CH</tspan><tspan font-size="24.6" dy="6.35">3</tspan><tspan dy="-6.35">-PA)</tspan><tspan font-size="24.6" dy="6.35">2</tspan><tspan dy="-6.35">(MA)</tspan><tspan font-size="24.6" dy="6.35">3</tspan><tspan dy="-6.35">Pb</tspan><tspan font-size="24.6" dy="6.35">4</tspan><tspan dy="-6.35">I</tspan><tspan font-size="24.6" dy="6.35">13</tspan></text>
<rect x="485.9" y="1873.95" width="59.5" height="14.7" fill="#7570b3"/>
<text transform="translate(559.2,1893) scale(1,1.05)" font-size="34.3"><tspan>(COOH-PA)</tspan><tspan font-size="24.6" dy="6.35">2</tspan><tspan dy="-6.35">(MA)</tspan><tspan font-size="24.6" dy="6.35">3</tspan><tspan dy="-6.35">Pb</tspan><tspan font-size="24.6" dy="6.35">4</tspan><tspan dy="-6.35">I</tspan><tspan font-size="24.6" dy="6.35">13</tspan></text>
<rect x="485.9" y="1918.75" width="59.5" height="14.7" fill="#d65f26"/>
<text transform="translate(559.2,1937.8) scale(1,1.05)" font-size="34.3"><tspan>(OH-PA)</tspan><tspan font-size="24.6" dy="6.35">2</tspan><tspan dy="-6.35">(MA)</tspan><tspan font-size="24.6" dy="6.35">3</tspan><tspan dy="-6.35">Pb</tspan><tspan font-size="24.6" dy="6.35">4</tspan><tspan dy="-6.35">I</tspan><tspan font-size="24.6" dy="6.35">13</tspan></text>
<rect x="485.9" y="1963.55" width="59.5" height="14.7" fill="#129c78"/>
<text transform="translate(559.2,1982.6) scale(1,1.05)" font-size="34.3"><tspan>(CN-EA)</tspan><tspan font-size="24.6" dy="6.35">2</tspan><tspan dy="-6.35">(MA)</tspan><tspan font-size="24.6" dy="6.35">3</tspan><tspan dy="-6.35">Pb</tspan><tspan font-size="24.6" dy="6.35">4</tspan><tspan dy="-6.35">I</tspan><tspan font-size="24.6" dy="6.35">13</tspan></text>
<rect x="486.1" y="2008.35" width="19.9" height="14.7" fill="#777777"/>
<rect x="526.2" y="2008.35" width="19.2" height="14.7" fill="#777777"/>
<text transform="translate(559.2,2027.4) scale(1,1.05)" font-size="34.3">MAPbI<tspan font-size="24.6" dy="6.35">3</tspan></text>
</svg></body></html>
